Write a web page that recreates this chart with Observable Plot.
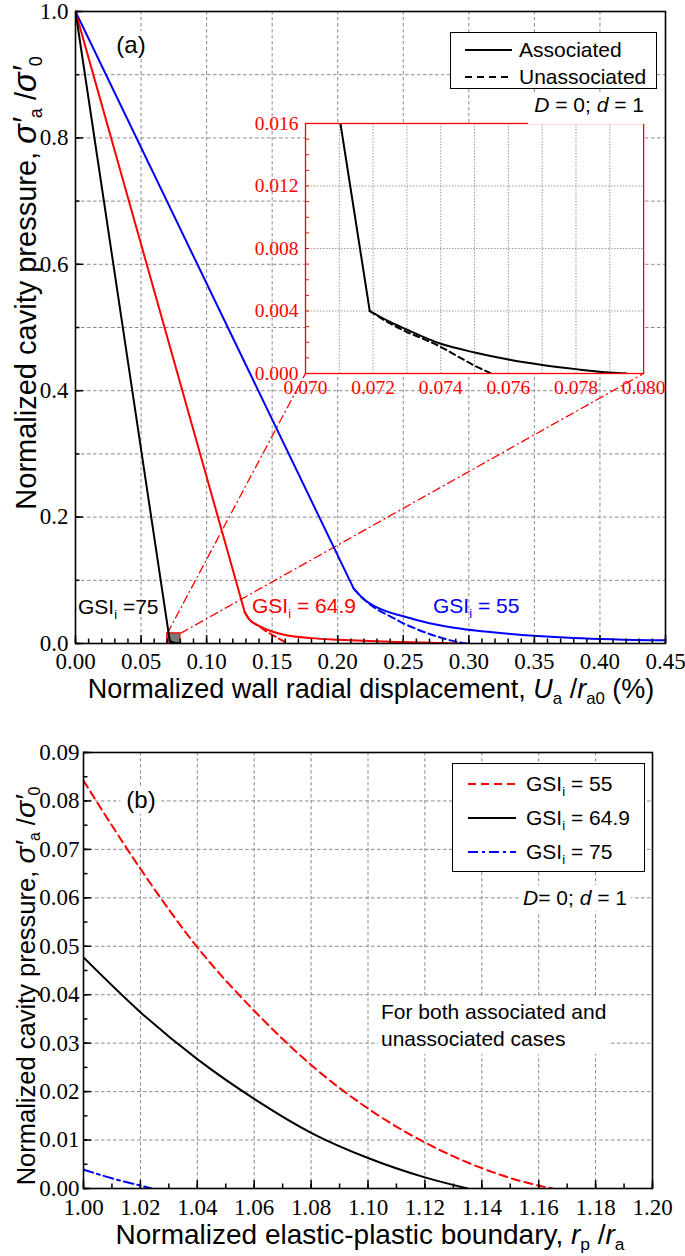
<!DOCTYPE html>
<html><head><meta charset="utf-8">
<script src="https://cdn.jsdelivr.net/npm/d3@7"></script>
<script src="https://cdn.jsdelivr.net/npm/@observablehq/plot@0.6"></script>
<style>
body{margin:0;background:#fff;}
#wrap{position:relative;width:685px;height:1256px;overflow:hidden;background:#fff;font-family:"Liberation Sans",Arial,sans-serif;}
#wrap svg{position:absolute;}
.lab{position:absolute;white-space:nowrap;font-family:"Liberation Sans",Arial,sans-serif;}
.lab sub{font-size:0.62em;vertical-align:-0.35em;line-height:0;}
.lab i{font-style:italic;}
.sym{font-size:1.12em;}
</style></head><body>
<div id="wrap"></div>
<script>
// ================= DATA =================
// Panel (a): cavity pressure vs wall displacement (%)
// GSIi = 75 (black)
const a75ElasticX = [0, 0.0719];
const a75ElasticY = [1.0, 0.0040];
const a75AssocX = [0.0719, 0.0725, 0.0730, 0.0740, 0.0750, 0.0760, 0.0770, 0.0780, 0.0790, 0.0795];
const a75AssocY = [0.0040, 0.0033, 0.0028, 0.0019, 0.00135, 0.0009, 0.00055, 0.00028, 0.00006, 0];
const a75UnassocX = [0.0719, 0.0725, 0.0730, 0.0735, 0.0740, 0.0745, 0.0750, 0.0755];
const a75UnassocY = [0.0040, 0.0032, 0.00265, 0.0022, 0.0017, 0.0011, 0.0005, 0];
// GSIi = 64.9 (red)
const a649ElasticX = [0, 0.1291];
const a649ElasticY = [1.0, 0.0495];
const a649AssocX = [0.1291, 0.133, 0.140, 0.150, 0.160, 0.180, 0.200, 0.220, 0.250, 0.270, 0.292];
const a649AssocY = [0.0495, 0.037, 0.028, 0.019, 0.0135, 0.0085, 0.006, 0.0042, 0.0022, 0.001, 0];
const a649UnassocX = [0.1291, 0.133, 0.137, 0.141, 0.145, 0.149, 0.155, 0.1615];
const a649UnassocY = [0.0495, 0.037, 0.031, 0.0258, 0.020, 0.015, 0.008, 0];
// GSIi = 55 (blue)
const a55ElasticX = [0, 0.2123];
const a55ElasticY = [1.0, 0.0865];
const a55AssocX = [0.2123, 0.220, 0.230, 0.250, 0.270, 0.290, 0.330, 0.380, 0.450];
const a55AssocY = [0.0865, 0.070, 0.057, 0.043, 0.032, 0.0245, 0.0155, 0.0088, 0.0050];
const a55UnassocX = [0.2123, 0.220, 0.230, 0.240, 0.250, 0.260, 0.270, 0.280, 0.290, 0.299];
const a55UnassocY = [0.0865, 0.070, 0.054, 0.043, 0.032, 0.023, 0.015, 0.0085, 0.003, 0];

// Panel (b): cavity pressure vs elastic-plastic boundary
const b55X = [1.00, 1.02, 1.04, 1.06, 1.08, 1.10, 1.12, 1.14, 1.16, 1.165];
const b55Y = [0.0842, 0.066, 0.0498, 0.0367, 0.0255, 0.0165, 0.0095, 0.0042, 0.0006, 0];
const b649X = [1.00, 1.02, 1.04, 1.06, 1.08, 1.10, 1.12, 1.135];
const b649Y = [0.0477, 0.0364, 0.0267, 0.0185, 0.0115, 0.0063, 0.0023, 0];
const b75X = [1.00, 1.01, 1.02, 1.024];
const b75Y = [0.0039, 0.0021, 0.0006, 0];

// Axis ticks
const aXTicks = [0, 0.05, 0.10, 0.15, 0.20, 0.25, 0.30, 0.35, 0.40, 0.45];
const aYTicks = [0, 0.2, 0.4, 0.6, 0.8, 1.0];
const insetXTicks = [0.070, 0.072, 0.074, 0.076, 0.078, 0.080];
const insetYTicks = [0, 0.004, 0.008, 0.012, 0.016];
const bXTicks = [1.00, 1.02, 1.04, 1.06, 1.08, 1.10, 1.12, 1.14, 1.16, 1.18, 1.20];
const bYTicks = [0, 0.01, 0.02, 0.03, 0.04, 0.05, 0.06, 0.07, 0.08, 0.09];
const insetXDomain = [0.070, 0.080];
const insetYDomain = [0, 0.016];

// Legend / annotation text
const legendA = ["Associated", "Unassociated"];
const gsiNames = ["55", "64.9", "75"];

// ================= LAYOUT =================
const wrap = document.getElementById("wrap");
const W = 685;
const SERIF = "Liberation Serif";
const A = {top: 0, height: 700, mL: 75, mR: 20, mT: 11, mB: 57};
const B = {top: 700, height: 556, mL: 83, mR: 33, mT: 52, mB: 68};
const insetPos = {x: [0.1754, 0.4333], y: [0.4272, 0.8228]}; // in panel (a) data units
const RED = "#ff0000", BLUE = "#0000ff", BLACK = "#000000";
const GRID = "#8a8a8a";
const range = (a, b, s) => d3.range(Math.round((b - a) / s) + 1).map(i => +(a + i * s).toFixed(6));
const pts = (xs, ys) => xs.map((x, i) => ({x, y: ys[i]}));

function ticksMarks(xMaj, xMin, yMaj, yMin, fw, fh, color, lenMaj = 8, lenMin = 4.5) {
  return [
    Plot.tickX(xMaj, {x: d => d, insetTop: fh - lenMaj, stroke: color, strokeWidth: 1.5}),
    Plot.tickX(xMin, {x: d => d, insetTop: fh - lenMin, stroke: color, strokeWidth: 1.5}),
    Plot.tickY(yMaj, {y: d => d, insetRight: fw - lenMaj, stroke: color, strokeWidth: 1.5}),
    Plot.tickY(yMin, {y: d => d, insetRight: fw - lenMin, stroke: color, strokeWidth: 1.5})
  ];
}
const lineOpts = (stroke, dash, curve) => ({x: "x", y: "y", stroke, strokeWidth: 2, strokeDasharray: dash, curve, clip: true});

// ================= PANEL (a) =================
const fwA = W - A.mL - A.mR, fhA = A.height - A.mT - A.mB;
const plotA = Plot.plot({
  width: W, height: A.height,
  marginLeft: A.mL, marginRight: A.mR, marginTop: A.mT, marginBottom: A.mB,
  x: {domain: [0, 0.45]},
  y: {domain: [0, 1]},
  style: {fontFamily: SERIF, fontSize: "23px", color: "black", background: "white"},
  marks: [
    Plot.ruleX(aXTicks.slice(1, -1), {stroke: GRID, strokeDasharray: "3.5,2.5"}),
    Plot.ruleY(range(0.1, 0.9, 0.1), {stroke: GRID, strokeDasharray: "3.5,2.5"}),
    Plot.link([0, 1], {
      x1: i => insetXDomain[i], y1: insetYDomain[1],
      x2: i => insetPos.x[i], y2: insetPos.y[0],
      stroke: RED, strokeWidth: 1.3, strokeDasharray: "9,3,2,3"
    }),
    Plot.rect([0], {x1: insetXDomain[0], x2: insetXDomain[1], y1: insetYDomain[0], y2: insetYDomain[1], fill: "#7a7a7a", stroke: RED, strokeWidth: 1.3}),
    Plot.line(pts(a55UnassocX, a55UnassocY), lineOpts(BLUE, "7,4", "monotone-x")),
    Plot.line(pts(a649UnassocX, a649UnassocY), lineOpts(RED, "7,4", "monotone-x")),
    Plot.line(pts(a75UnassocX, a75UnassocY), lineOpts(BLACK, "7,4", "monotone-x")),
    Plot.line(pts(a55ElasticX, a55ElasticY), lineOpts(BLUE, null, "linear")),
    Plot.line(pts(a55AssocX, a55AssocY), lineOpts(BLUE, null, "monotone-x")),
    Plot.line(pts(a649ElasticX, a649ElasticY), lineOpts(RED, null, "linear")),
    Plot.line(pts(a649AssocX, a649AssocY), lineOpts(RED, null, "monotone-x")),
    Plot.line(pts(a75ElasticX, a75ElasticY), lineOpts(BLACK, null, "linear")),
    Plot.line(pts(a75AssocX, a75AssocY), lineOpts(BLACK, null, "monotone-x")),
    ...ticksMarks(aXTicks, range(0, 0.45, 0.01), aYTicks, range(0, 1, 0.1), fwA, fhA, BLACK),
    Plot.axisX({ticks: aXTicks, tickSize: 0, tickPadding: 9, tickFormat: d3.format(".2f"), label: null}),
    Plot.axisY({ticks: aYTicks, tickSize: 0, tickPadding: 7, tickFormat: d3.format(".1f"), label: null}),
    Plot.frame({stroke: BLACK, strokeWidth: 1.6})
  ]
});
plotA.style.left = "0px"; plotA.style.top = A.top + "px";
wrap.appendChild(plotA);

// ================= INSET =================
const sxA = plotA.scale("x"), syA = plotA.scale("y");
const inL = sxA.apply(insetPos.x[0]), inR = sxA.apply(insetPos.x[1]);
const inT = syA.apply(insetPos.y[1]), inB = syA.apply(insetPos.y[0]);
const I = {mL: 62, mR: 26, mT: 10, mB: 32};
const fwI = inR - inL, fhI = inB - inT;
const inset = Plot.plot({
  width: fwI + I.mL + I.mR, height: fhI + I.mT + I.mB,
  marginLeft: I.mL, marginRight: I.mR, marginTop: I.mT, marginBottom: I.mB,
  x: {domain: insetXDomain},
  y: {domain: insetYDomain},
  style: {fontFamily: SERIF, fontSize: "19.5px", color: RED, background: "transparent", overflow: "visible"},
  marks: [
    Plot.frame({fill: "white", stroke: null}),
    Plot.ruleX(range(0.071, 0.079, 0.001), {stroke: "#9a9a9a", strokeDasharray: "1.5,1.5"}),
    Plot.ruleY(range(0.004, 0.012, 0.004), {stroke: "#9a9a9a", strokeDasharray: "1.5,1.5"}),
    Plot.line(pts(a75UnassocX, a75UnassocY), lineOpts(BLACK, "6,4", "monotone-x")),
    Plot.line(pts(a75ElasticX, a75ElasticY), lineOpts(BLACK, null, "linear")),
    Plot.line(pts(a75AssocX, a75AssocY), lineOpts(BLACK, null, "monotone-x")),
    Plot.tickY(range(0, 0.016, 0.001), {y: d => d, insetRight: fwI - 4, stroke: RED, strokeWidth: 1}),
    Plot.axisX({ticks: insetXTicks, tickSize: 0, tickPadding: 7, tickFormat: d3.format(".3f"), label: null, fill: RED}),
    Plot.axisY({ticks: insetYTicks, tickSize: 0, tickPadding: 7, tickFormat: d3.format(".3f"), label: null, fill: RED}),
    Plot.frame({stroke: RED, strokeWidth: 1.3})
  ]
});
inset.style.left = (inL - I.mL) + "px"; inset.style.top = (A.top + inT - I.mT) + "px";
wrap.appendChild(inset);

// ================= PANEL (b) =================
const fwB = W - B.mL - B.mR, fhB = B.height - B.mT - B.mB;
const plotB = Plot.plot({
  width: W, height: B.height,
  marginLeft: B.mL, marginRight: B.mR, marginTop: B.mT, marginBottom: B.mB,
  x: {domain: [1.0, 1.2]},
  y: {domain: [0, 0.09]},
  style: {fontFamily: SERIF, fontSize: "23px", color: "black", background: "white"},
  marks: [
    Plot.ruleX(bXTicks.slice(1, -1), {stroke: GRID, strokeDasharray: "3.5,2.5"}),
    Plot.ruleY(bYTicks.slice(1, -1), {stroke: GRID, strokeDasharray: "3.5,2.5"}),
    Plot.line(pts(b75X, b75Y), lineOpts(BLUE, "10,4,3,4", "monotone-x")),
    Plot.line(pts(b649X, b649Y), lineOpts(BLACK, null, "monotone-x")),
    Plot.line(pts(b55X, b55Y), lineOpts(RED, "8,5", "monotone-x")),
    ...ticksMarks(bXTicks, range(1, 1.2, 0.01), bYTicks, range(0, 0.09, 0.005), fwB, fhB, BLACK),
    Plot.axisX({ticks: bXTicks, tickSize: 0, tickPadding: 10, tickFormat: d3.format(".2f"), label: null}),
    Plot.axisY({ticks: bYTicks, tickSize: 0, tickPadding: 4, tickFormat: d3.format(".2f"), label: null}),
    Plot.frame({stroke: BLACK, strokeWidth: 1.6})
  ]
});
plotB.style.left = "0px"; plotB.style.top = B.top + "px";
wrap.appendChild(plotB);

// ================= TEXT & LEGENDS =================
function lab(html, left, cy, o = {}) {
  const size = o.size || 21;
  const lh = o.lh || 1.2;
  const d = document.createElement("div");
  d.className = "lab";
  d.innerHTML = html;
  d.style.fontSize = size + "px";
  d.style.lineHeight = (size * lh) + "px";
  d.style.top = (cy - size * lh / 2) + "px";
  d.style.color = o.color || "black";
  if (o.bg) { d.style.background = o.bg; d.style.padding = o.pad || "0 3px"; }
  if (o.anchor === "end") { d.style.right = (W - left) + "px"; }
  else if (o.anchor === "middle") { d.style.left = left + "px"; d.style.transform = "translateX(-50%)"; }
  else d.style.left = left + "px";
  if (o.rotate) { d.style.left = left + "px"; d.style.transform = "translate(-50%,-50%) rotate(-90deg)"; d.style.top = cy + "px"; }
  wrap.appendChild(d);
  return d;
}
function legendBox(left, top, w, h) {
  const d = document.createElement("div");
  Object.assign(d.style, {position: "absolute", left: left + "px", top: top + "px", width: w + "px", height: h + "px", border: "1.2px solid #000", background: "#fff", boxSizing: "border-box"});
  wrap.appendChild(d);
}
function sample(x1, x2, y, color, dash) {
  const s = document.createElementNS("http://www.w3.org/2000/svg", "svg");
  s.setAttribute("width", x2 - x1); s.setAttribute("height", 6);
  s.style.left = x1 + "px"; s.style.top = (y - 3) + "px";
  s.innerHTML = `<line x1="0" x2="${x2 - x1}" y1="3" y2="3" stroke="${color}" stroke-width="2" ${dash ? `stroke-dasharray="${dash}"` : ""}/>`;
  wrap.appendChild(s);
}
const yTitle = "Normalized cavity pressure, <i class='sym'>σ′</i><sub>a</sub> /<i class='sym'>σ′</i><sub>0</sub>";

// Panel (a) annotations
lab("(a)", 131, 45, {size: 24, anchor: "middle", bg: "#fff"});
legendBox(450, 32, 207, 57);
sample(465, 512, 50, BLACK, null); lab(legendA[0], 519, 50);
sample(465, 512, 77, BLACK, "7,5"); lab(legendA[1], 519, 77);
lab("<i>D</i> = 0; <i>d</i> = 1", 646, 105, {anchor: "end", bg: "#fff", pad: "0 2px 6px 6px"});
lab(`GSI<sub>i</sub> =${gsiNames[2]}`, 78, 607);
lab(`GSI<sub>i</sub> = ${gsiNames[1]}`, 252, 606, {color: RED});
lab(`GSI<sub>i</sub> = ${gsiNames[0]}`, 433, 606, {color: BLUE});
lab("Normalized wall radial displacement, <i>U</i><sub>a</sub> /<i>r</i><sub>a0</sub> (%)", 371, 689, {size: 27, anchor: "middle", lh: 1.0});
lab(yTitle, 26, 283, {size: 29, rotate: true, lh: 1.0});

// Panel (b) annotations
lab("(b)", 141, 800, {size: 24, anchor: "middle", bg: "#fff", pad: "0 6px"});
legendBox(452, 763, 193, 109);
sample(468, 516, 784, RED, "8,5"); lab(`GSI<sub>i</sub> = ${gsiNames[0]}`, 526, 784);
sample(468, 516, 818, BLACK, null); lab(`GSI<sub>i</sub> = ${gsiNames[1]}`, 526, 818);
sample(468, 516, 852, BLUE, "10,4,3,4"); lab(`GSI<sub>i</sub> = ${gsiNames[2]}`, 526, 852);
lab("<i>D</i>= 0; <i>d</i> = 1", 631, 898, {anchor: "end", bg: "#fff", pad: "0 4px"});
const note = lab("For both associated and<br>unassociated cases", 378, 1025, {bg: "#fff", pad: "2px 3px"});
note.style.lineHeight = "27px"; note.style.top = (1025 - 29) + "px";
lab("Normalized elastic-plastic boundary, <i>r</i><sub>p</sub> /<i>r</i><sub>a</sub>", 370, 1235, {size: 28, anchor: "middle", lh: 1.0});
lab(yTitle, 26, 986, {size: 25.5, rotate: true, lh: 1.0});
</script>
</body></html>
